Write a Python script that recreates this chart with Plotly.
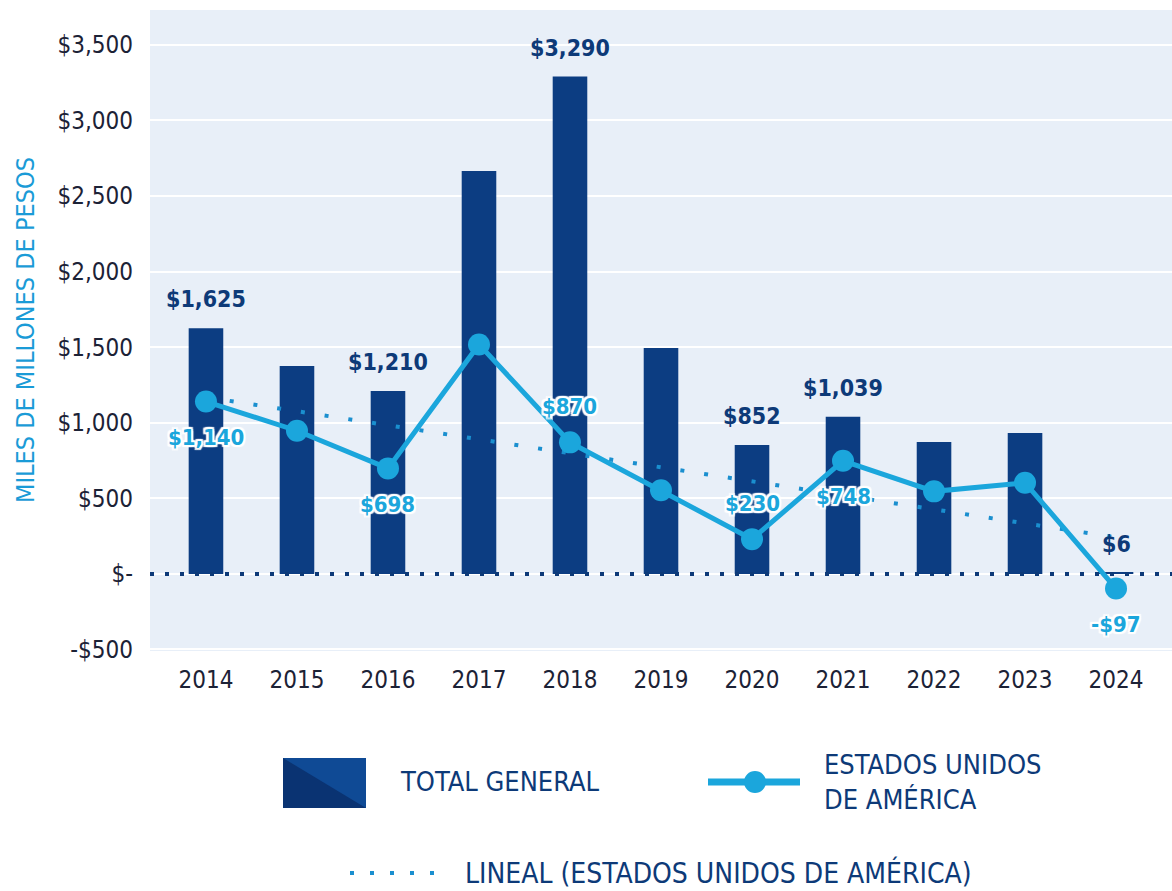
import numpy as np
import plotly.graph_objects as go

years = ["2014", "2015", "2016", "2017", "2018", "2019", "2020", "2021", "2022", "2023", "2024"]
total_general = [1625, 1375, 1210, 2665, 3290, 1495, 852, 1039, 873, 932, 6]
estados_unidos = [1140, 947, 698, 1518, 870, 553, 230, 748, 546, 603, -97]

bar_label_years = ["2014", "2016", "2018", "2020", "2021", "2024"]
bar_label_text = ["$1,625", "$1,210", "$3,290", "$852", "$1,039", "$6"]
line_label_years = ["2014", "2016", "2018", "2020", "2021", "2024"]
line_label_text = ["$1,140", "$698", "$870", "$230", "$748", "-$97"]
line_label_pos = ["below", "below", "above", "above", "below", "below"]

y_tickvals = [-500, 0, 500, 1000, 1500, 2000, 2500, 3000, 3500]
y_ticktext = ["-$500", "$-", "$500", "$1,000", "$1,500", "$2,000", "$2,500", "$3,000", "$3,500"]

NAVY = "#0c3d82"
NAVY_TXT = "#0d3a78"
LIGHT = "#1ba6dc"
FONT = "Liberation Sans Narrow, DejaVu Sans Condensed, Roboto, sans-serif"

# trend (linear fit of the US series)
xi = np.arange(len(years))
slope, intercept = np.polyfit(xi, estados_unidos, 1)
trend = slope * xi + intercept

fig = go.Figure()
fig.add_trace(go.Bar(x=years, y=total_general, marker=dict(color=NAVY, line=dict(width=0)),
                     width=0.38, name="TOTAL GENERAL", showlegend=False))
fig.add_trace(go.Scatter(x=years, y=list(trend), mode="lines",
                         line=dict(color="#1a8fcf", width=4, dash="4px,20px"),
                         showlegend=False, hoverinfo="skip"))
fig.add_trace(go.Scatter(x=years, y=estados_unidos, mode="lines+markers",
                         line=dict(color=LIGHT, width=5),
                         marker=dict(size=22, color=LIGHT),
                         showlegend=False))

shadow = "2px 0 1px white, -2px 0 1px white, 0 2px 1px white, 0 -2px 1px white, 2px 2px 1px white, -2px -2px 1px white, 2px -2px 1px white, -2px 2px 1px white"
annotations = []
tg = dict(zip(years, total_general))
for yr, txt in zip(bar_label_years, bar_label_text):
    annotations.append(dict(x=years.index(yr), y=tg[yr], text=f"<b>{txt}</b>", showarrow=False,
                            yanchor="bottom", yshift=14,
                            font=dict(family=FONT, size=23, color=NAVY_TXT)))
us = dict(zip(years, estados_unidos))
for yr, txt, pos in zip(line_label_years, line_label_text, line_label_pos):
    annotations.append(dict(x=years.index(yr), y=us[yr], text=f"<b>{txt}</b>", showarrow=False,
                            yanchor="middle", yshift=(36 if pos == "above" else -36),
                            font=dict(family=FONT, size=22, color=LIGHT, shadow=shadow)))

# layout geometry (pixels)
W, H = 1172, 891
L, R, T, B = 150, 0, 10, 240
plot_w = W - L - R
plot_h = H - T - B


def px(x):
    return (x - L) / plot_w


def py(y):
    return (H - B - y) / plot_h


annotations.append(dict(xref="paper", yref="paper", x=px(25), y=py(330), text="MILES DE MILLONES DE PESOS",
                        textangle=-90, showarrow=False, xanchor="center", yanchor="middle",
                        font=dict(family=FONT, size=25, color="#1a9bd7")))

shapes = [
    dict(type="line", xref="paper", yref="y", x0=0, x1=1, y0=0, y1=0,
         line=dict(color=NAVY_TXT, width=4, dash="4px,11px"), layer="above"),
    # legend: total general square (two-tone)
    dict(type="path", xref="paper", yref="paper",
         path=f"M {px(283)},{py(758)} L {px(366)},{py(758)} L {px(366)},{py(808)} L {px(283)},{py(808)} Z",
         fillcolor="#0f4a95", line=dict(width=0)),
    dict(type="path", xref="paper", yref="paper",
         path=f"M {px(283)},{py(758)} L {px(366)},{py(808)} L {px(283)},{py(808)} Z",
         fillcolor="#0a3372", line=dict(width=0)),
    # legend: line with marker
    dict(type="line", xref="paper", yref="paper", x0=px(708), x1=px(800), y0=py(782), y1=py(782),
         line=dict(color=LIGHT, width=7)),
    dict(type="circle", xref="paper", yref="paper", x0=px(744), x1=px(766), y0=py(771), y1=py(793),
         fillcolor=LIGHT, line=dict(width=0)),
    # legend: dotted trend
    dict(type="line", xref="paper", yref="paper", x0=px(350), x1=px(436), y0=py(873), y1=py(873),
         line=dict(color="#1a8fcf", width=4, dash="4px,16px")),
]

leg_font = dict(family=FONT, size=27, color=NAVY_TXT)
annotations += [
    dict(xref="paper", yref="paper", x=px(398), y=py(782), text="TOTAL GENERAL", showarrow=False,
         xanchor="left", yanchor="middle", font=leg_font),
    dict(xref="paper", yref="paper", x=px(822), y=py(782), text="ESTADOS UNIDOS<br>DE AMÉRICA", showarrow=False,
         xanchor="left", yanchor="middle", align="left", font=leg_font),
    dict(xref="paper", yref="paper", x=px(463), y=py(873), text="LINEAL (ESTADOS UNIDOS DE AMÉRICA)", showarrow=False,
         xanchor="left", yanchor="middle", font=dict(family=FONT, size=28, color=NAVY_TXT)),
]

fig.update_layout(
    width=W, height=H,
    margin=dict(l=L, r=R, t=T, b=B, pad=0),
    paper_bgcolor="white",
    plot_bgcolor="#e8eff8",
    font=dict(family=FONT),
    annotations=annotations,
    shapes=shapes,
    showlegend=False,
    xaxis=dict(type="category", range=[-0.615, 10.615], showgrid=False, zeroline=False,
               showline=False, ticks="", tickfont=dict(family=FONT, size=24, color="#1c2236"),
               ticklabelstandoff=12),
    yaxis=dict(range=[-510, 3730], tickvals=y_tickvals, ticktext=y_ticktext,
               showgrid=True, gridcolor="white", gridwidth=2, zeroline=False, showline=False,
               tickfont=dict(family=FONT, size=24, color="#1c2236"), ticks="",
               ticklabelstandoff=16),
    bargap=0.6,
)

fig.write_html("out.html")
